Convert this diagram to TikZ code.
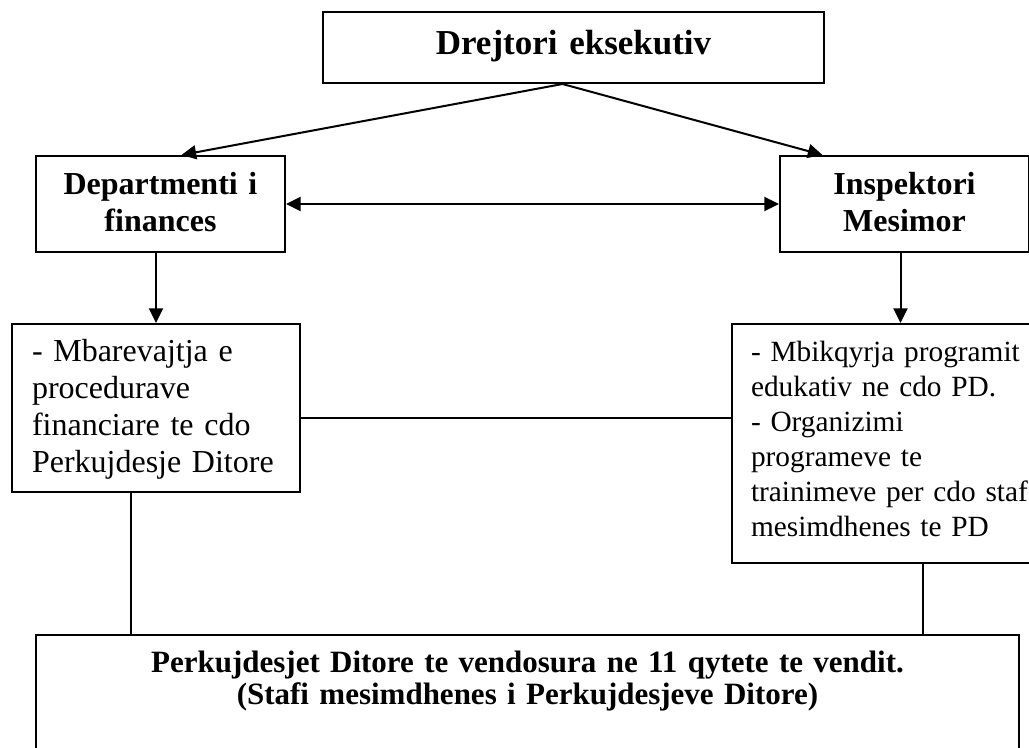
\documentclass[tikz,border=0pt]{standalone}
\usepackage{fontspec}
\setmainfont{Liberation Serif}
\usetikzlibrary{arrows.meta,calc}

\tikzset{
  box/.style={draw, line width=1.5pt, anchor=north west, inner xsep=6pt, inner ysep=6pt,
    align=center, font=\bfseries\fontsize{24}{27.75}\selectfont},
  task/.style={box, align=left, inner xsep=15pt, font=\fontsize{24}{27.75}\selectfont},
  link/.style={line width=1.1pt}
}

\begin{document}
\begin{tikzpicture}[x=0.75pt,y=-0.75pt,line width=1.5pt,>={Triangle[length=11pt,width=10.5pt]}]
        \useasboundingbox (0,0) rectangle (1029,748);

        \node[box, font=\bfseries\fontsize{26.25}{30}\selectfont, text width=363.75pt, text height=26.25pt, text depth=15pt] (chief) at (322,11) {Drejtori eksekutiv};
        \node[box, text width=174.75pt, text height=23.25pt, text depth=36.75pt] (fin) at (35,155) {Departmenti i\\ finances};
        \node[box, text width=174.75pt, text height=23.25pt, text depth=36.75pt] (insp) at (779,155) {Inspektori\\ Mesimor};

        \node[task, text width=186pt, text height=22.5pt, text depth=91.5pt] (finTasks) at (11,323) {- Mbarevajtja e\\ procedurave\\ financiare te cdo\\ Perkujdesje Ditore};
        \node[task, font=\fontsize{22}{26.25}\selectfont, inner xsep=14.25pt, text width=225pt, text height=22.5pt, text depth=144.75pt] (inspTasks) at (731,323) {- Mbikqyrja programit\\ edukativ ne cdo PD.\\ - Organizimi\\ programeve te\\ trainimeve per cdo staf\\ mesimdhenes te PD};

        \node[box, font=\bfseries\fontsize{23.25}{24}\selectfont, text width=725.25pt, text height=21.75pt, text depth=75pt] (base) at (35,634) {Perkujdesjet Ditore te vendosura ne 11 qytete te vendit.\\ (Stafi mesimdhenes i Perkujdesjeve Ditore)};

        \draw[->] ($(chief.south)+(-11,0)$) -- ($(fin.north)+(21,0)$);
        \draw[->] ($(chief.south)+(-11,0)$) -- ($(insp.north)+(-82,0)$);
        \draw[<->] (fin.east) -- (insp.west);
        \draw[->] (finTasks.north |- fin.south) -- (finTasks.north);
        \draw[->] ($(insp.south)+(-4,0)$) -- ($(insp.south |- inspTasks.north)+(-4,0)$);

        \draw[link] (finTasks.east |- 0,418) -- (inspTasks.west |- 0,418);
        \draw[link] (131,0 |- finTasks.south) -- (131,0 |- base.north);
        \draw[link] (923,0 |- inspTasks.south) -- (923,0 |- base.north);

\end{tikzpicture}
\end{document}
